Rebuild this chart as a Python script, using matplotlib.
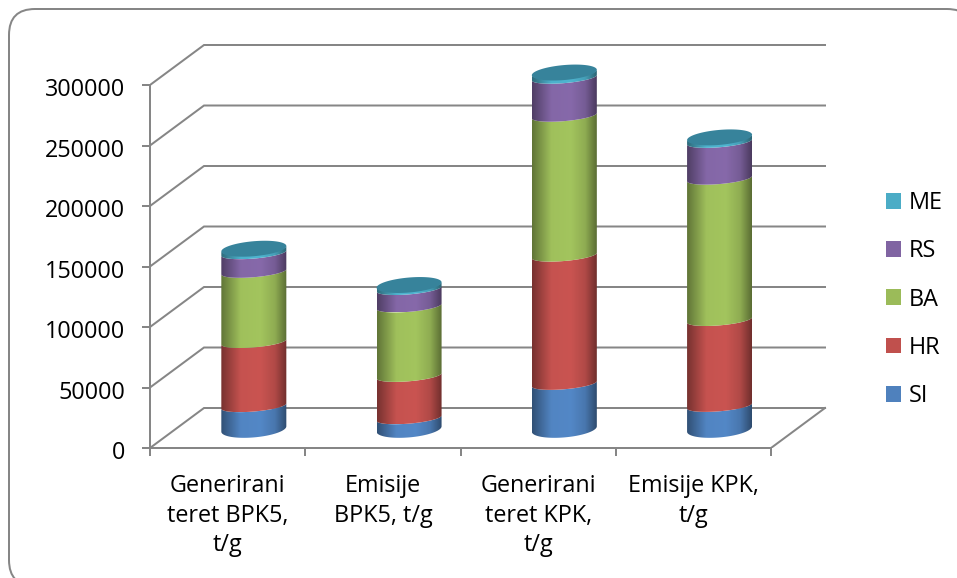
import numpy as np
import matplotlib
matplotlib.use('Agg')
import matplotlib.pyplot as plt
from matplotlib.colors import LinearSegmentedColormap
from matplotlib.patches import FancyBboxPatch, PathPatch, Patch
from matplotlib.path import Path
from matplotlib.transforms import ScaledTranslation

plt.rcParams['font.family'] = 'Open Sans'

categories = ['Generirani\nteret BPK5,\nt/g', 'Emisije\nBPK5, t/g',
              'Generirani\nteret KPK,\nt/g', 'Emisije KPK,\nt/g']
series_names = ['SI', 'HR', 'BA', 'RS', 'ME']
si = [19000, 9000, 37400, 19200]
hr = [53000, 35000, 106000, 71000]
ba = [58000, 57400, 115600, 116800]
rs = [15400, 14400, 31400, 30400]
me = [3600, 3200, 4200, 3600]
y_ticks = [0, 50000, 100000, 150000, 200000, 250000, 300000]
colors = ['#4F81BD', '#C0504D', '#9BBB59', '#8064A2', '#4BACC6']
grid_color = '#868686'
W, H = 957, 578

# front plane of the fake 3d box, in pixels
px_left, px_right, px_zero, px_top = 150, 771, 448, 85
px_per_cat = (px_right - px_left) / len(categories)
px_per_val = (px_zero - px_top) / 300000
depth_x = 54 / px_per_cat
depth_y = 40 / px_per_val

fig = plt.figure(figsize=(W / 100, H / 100), dpi=100)
# outer frame runs off the right and bottom of the picture
fig.patches.append(FancyBboxPatch(
    (9, -8), 964, 577, boxstyle='round,pad=0,rounding_size=26',
    transform=None, fc='white', ec=grid_color, lw=1.44, figure=fig, zorder=-1))

ax_right = 830
ax_ptop = 40
ax = fig.add_axes([px_left / W, (H - px_zero) / H,
                   (ax_right - px_left) / W, (px_zero - ax_ptop) / H])
ax.patch.set_visible(False)
xlim = (0, (ax_right - px_left) / px_per_cat)
ylim = (0, (px_zero - ax_ptop) / px_per_val)


def shaded_cmap(color):
    c = np.array(matplotlib.colors.to_rgb(color))
    stops = [(0, .62), (.3, 1.03), (.6, 1.05), (.82, .92), (1, .58)]
    return LinearSegmentedColormap.from_list(
        'cyl', [(p, tuple(np.clip(c * k, 0, 1))) for p, k in stops])


def ellipse(cx, v, t, b_px):
    # tilted ellipse, right side sits higher than the left
    a, b, s = 32.5 / px_per_cat, b_px / px_per_val, 2.7 / px_per_val
    base = 15700
    return cx + a * np.cos(t), v + base + b * np.sin(t) + s * np.cos(t)


def draw_segment(cx, v0, v1, b0, b1, color):
    t = np.linspace(np.pi, 2 * np.pi, 60)
    x0, y0 = ellipse(cx, v0, t, b0)
    x1, y1 = ellipse(cx, v1, t[::-1], b1)
    verts = np.r_[np.c_[x0, y0], np.c_[x1, y1], [[x0[0], y0[0]]]]
    clip = PathPatch(Path(verts), transform=ax.transData, fc='none', ec='none')
    ax.add_patch(clip)
    grad = np.linspace(0, 1, 256)[None, :]
    im = ax.imshow(grad, cmap=shaded_cmap(color), aspect='auto', zorder=3,
                   extent=(x0.min(), x0.max(), min(y0.min(), y1.min()),
                           max(y0.max(), y1.max())), interpolation='bilinear')
    im.set_clip_path(clip)


# back wall and floor lines
for v in y_ticks:
    ax.plot([0, depth_x, len(categories) + depth_x],
            [v, v + depth_y, v + depth_y], color=grid_color, lw=1.44,
            zorder=1, solid_joinstyle='miter')
ax.plot([len(categories), len(categories) + depth_x], [0, depth_y],
        color=grid_color, lw=1.44, zorder=1)

stack = np.array([si, hr, ba, rs, me], dtype=float)
tops = np.cumsum(stack, axis=0)
for i in range(len(categories)):
    cx = i + .5 + depth_x / 2 - .8 / px_per_cat
    bottom = 0
    for j, color in enumerate(colors):
        # the floor and the cap bulge more than the joints between segments
        b0 = 8.4 if j == 0 else 5.5
        draw_segment(cx, bottom, tops[j, i], b0, 5.5, color)
        bottom = tops[j, i]
    t = np.linspace(0, 2 * np.pi, 120)
    ex, ey = ellipse(cx, bottom, t, 7.5)
    ax.fill(ex, ey, color='#37839B', lw=0, zorder=4)

ax.set_xlim(xlim)
ax.set_ylim(ylim)

for side in ['top', 'right']:
    ax.spines[side].set_visible(False)
ax.spines['left'].set_bounds(0, 300000)
ax.spines['bottom'].set_bounds(0, len(categories))
for side in ['left', 'bottom']:
    ax.spines[side].set_color(grid_color)
    ax.spines[side].set_linewidth(1.44)

ax.set_yticks(y_ticks)
ax.set_xticks(np.arange(len(categories) + 1))
ax.set_xticklabels([])
ax.set_xticks(np.arange(len(categories)) + .5, minor=True)
ax.set_xticklabels(categories, minor=True, linespacing=1.3)
ax.tick_params(axis='y', length=5.8, width=1.44, color=grid_color,
               labelsize=16.8, pad=12, labelcolor='black')
ax.tick_params(axis='x', which='major', length=5.8, width=1.44,
               color=grid_color)
ax.tick_params(axis='x', which='minor', length=0, labelsize=16.8, pad=19)

# nudge the value labels down a little
offset = ScaledTranslation(0, -1.5 / 72, fig.dpi_scale_trans)
for label in ax.get_yticklabels():
    label.set_transform(label.get_transform() + offset)

handles = [Patch(fc=c, ec='none', label=n) for c, n in zip(colors, series_names)]
fig.legend(handles[::-1], series_names[::-1], loc='upper left',
           bbox_to_anchor=(886 / W, (H - 191) / H), frameon=False,
           fontsize=16.8, borderpad=0, borderaxespad=0, handlelength=.66,
           handleheight=.66, handletextpad=.32, labelspacing=1.04)

fig.savefig('out.png', dpi=100)
